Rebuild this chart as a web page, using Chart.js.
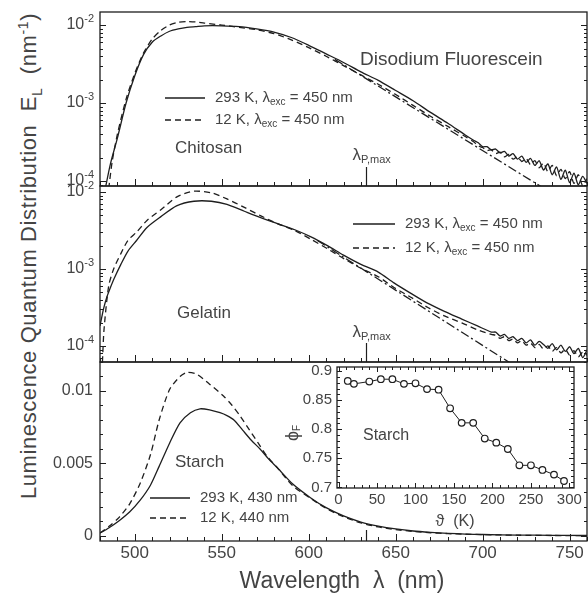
<!DOCTYPE html>
<html>
<head>
<meta charset="utf-8">
<title>Luminescence quantum distribution</title>
<script src="https://cdn.jsdelivr.net/npm/chart.js@4.4.1/dist/chart.umd.min.js"></script>
<style>
  html, body { margin: 0; padding: 0; background: #fff; }
  body { position: relative; width: 588px; height: 594px; overflow: hidden; }
  canvas { position: absolute; }
  #yTitle {
    position: absolute; left: 30px; top: 256px;
    transform: translate(-50%, -50%) rotate(-90deg);
    white-space: nowrap; font: 22px "Liberation Sans", Arial, sans-serif; color: #444;
    letter-spacing: 0.6px;
  }
  #yTitle sub, #yTitle sup { font-size: 14px; }
</style>
</head>
<body>
<div id="yTitle">Luminescence Quantum Distribution&nbsp; E<sub>L</sub> &nbsp;(nm<sup>-1</sup>)</div>
<canvas id="top" width="588" height="192" style="left:0;top:0"></canvas>
<canvas id="mid" width="588" height="192" style="left:0;top:176px"></canvas>
<canvas id="bot" width="588" height="242" style="left:0;top:352px"></canvas>
<canvas id="inset" width="318" height="180" style="left:270px;top:355px"></canvas>
<script>
// ---- data (log panels hold log10 of E_L) ----

// Chitosan, top panel
const chitWl293 = [483, 486, 490, 495, 500, 505, 510, 515, 520, 525, 530, 535, 540, 550, 560, 570, 580, 590, 600, 610, 620, 630, 640, 650, 660, 670, 680, 690, 695];
const chitExp293 = [-4.1, -3.78, -3.45, -3.0, -2.65, -2.38, -2.22, -2.14, -2.08, -2.05, -2.03, -2.02, -2.01, -2.01, -2.02, -2.05, -2.09, -2.16, -2.26, -2.37, -2.48, -2.60, -2.71, -2.84, -2.97, -3.12, -3.26, -3.41, -3.48];
const chitWl12 = [485, 487, 490, 495, 500, 505, 510, 515, 520, 525, 530, 535, 540, 550, 560, 570, 580, 590, 600, 610, 620, 630, 640, 650, 660, 670, 680, 690, 695];
const chitExp12 = [-4.1, -3.75, -3.40, -2.95, -2.62, -2.36, -2.18, -2.07, -2.0, -1.965, -1.955, -1.96, -1.975, -2.0, -2.03, -2.06, -2.11, -2.19, -2.29, -2.40, -2.52, -2.64, -2.76, -2.89, -3.03, -3.17, -3.30, -3.43, -3.50];
const chitTailWl = [697.5, 700, 702.5, 705, 707.5, 710, 712.5, 715, 717.5, 720, 722.5, 725, 727.5, 730, 732.5, 735, 737.5, 740, 742.5, 745, 747.5, 750, 752.5, 755, 757.5, 760];
const chitTailExp293 = [-3.51, -3.56, -3.56, -3.60, -3.59, -3.64, -3.62, -3.68, -3.65, -3.72, -3.68, -3.76, -3.71, -3.80, -3.74, -3.86, -3.78, -3.92, -3.82, -3.98, -3.86, -4.02, -3.90, -4.05, -3.94, -4.03];
const chitTailExp12 = [-3.55, -3.57, -3.61, -3.60, -3.65, -3.63, -3.69, -3.66, -3.72, -3.69, -3.75, -3.71, -3.79, -3.74, -3.83, -3.77, -3.88, -3.80, -3.93, -3.85, -3.97, -3.88, -4.03, -3.92, -4.06, -3.97];
const chitFitWl = [615, 740];
const chitFitExp = [-2.44, -4.16];

// Gelatin, middle panel
const gelWl293 = [480, 482, 484, 486, 488, 492, 496, 501, 507, 515, 524, 534, 544, 553, 563, 572, 582, 592, 601, 611, 620, 630, 640, 649, 659, 668, 678, 688, 697, 705];
const gelExp293 = [-3.74, -3.52, -3.36, -3.24, -3.13, -2.94, -2.77, -2.63, -2.46, -2.32, -2.18, -2.12, -2.12, -2.16, -2.25, -2.33, -2.41, -2.49, -2.58, -2.70, -2.82, -2.94, -3.04, -3.18, -3.32, -3.44, -3.55, -3.65, -3.74, -3.82];
const gelWl12 = [481.4, 482.3, 485, 488, 492, 496, 501.5, 507, 515, 524.5, 534, 544, 553, 563, 572.5, 582, 592, 601, 611, 620.5, 630, 640, 649, 659, 668.5, 678, 688, 697, 705];
const gelExp12 = [-4.21, -3.79, -3.22, -2.99, -2.80, -2.63, -2.51, -2.37, -2.23, -2.06, -1.99, -2.01, -2.09, -2.20, -2.31, -2.41, -2.50, -2.61, -2.74, -2.87, -2.99, -3.10, -3.24, -3.37, -3.50, -3.61, -3.70, -3.79, -3.85];
const gelTailWl = [707.5, 710, 712.5, 715, 717.5, 720, 722.5, 725, 727.5, 730, 732.5, 735, 737.5, 740, 742.5, 745, 747.5, 750, 752.5, 755, 757.5, 760];
const gelTailExp293 = [-3.82, -3.87, -3.85, -3.90, -3.88, -3.93, -3.90, -3.96, -3.92, -3.99, -3.94, -3.98, -4.03, -3.97, -4.05, -3.99, -4.07, -4.01, -4.10, -4.03, -4.15, -4.05];
const gelTailExp12 = [-3.86, -3.90, -3.88, -3.93, -3.91, -3.96, -3.93, -3.99, -3.96, -4.02, -3.98, -4.04, -4.00, -4.07, -4.02, -4.09, -4.04, -4.12, -4.06, -4.14, -4.08, -4.12];
const gelFitWl = [605, 720];
const gelFitExp = [-2.63, -4.28];

// Starch, bottom panel (linear)
const starchWl293 = [480, 485, 491, 497, 503, 509, 514, 520, 526, 532, 537.5, 543, 549, 553, 557, 562, 567, 572, 577, 582, 591, 601, 610, 620, 630, 640, 650, 660, 670, 680, 690, 700, 720, 740, 760];
const starch293 = [0.0002, 0.00055, 0.00105, 0.00165, 0.00245, 0.0035, 0.0048, 0.0064, 0.0078, 0.0085, 0.00877, 0.0087, 0.0085, 0.0083, 0.0080, 0.0073, 0.0066, 0.0060, 0.0053, 0.0047, 0.00356, 0.00264, 0.00195, 0.00138, 0.00096, 0.00068, 0.00048, 0.00034, 0.00025, 0.00018, 0.00013, 0.0001, 0.00006, 0.00004, 0.00003];
const starchWl12 = [480, 485.6, 491, 497, 503, 509, 514, 520, 526, 530, 535.6, 543, 551, 556, 561, 566, 571, 576, 582, 591, 601, 610, 620, 630, 640, 650, 660, 670, 680, 690, 700, 720, 740, 760];
const starch12 = [0.0002, 0.0007, 0.00128, 0.0022, 0.0036, 0.0056, 0.0080, 0.0101, 0.0110, 0.01128, 0.01116, 0.01047, 0.00965, 0.0090, 0.0082, 0.0073, 0.0064, 0.0055, 0.0047, 0.00344, 0.0026, 0.0019, 0.00132, 0.0009, 0.00062, 0.00044, 0.00031, 0.00022, 0.00016, 0.00012, 0.00009, 0.00005, 0.00003, 0.00002];

// Inset: fluorescence quantum yield of starch vs temperature
const thetaK = [12, 20, 40, 55, 70, 85, 100, 115, 130, 145, 160, 175, 190, 205, 220, 235, 250, 265, 280, 293];
const phiF = [0.883, 0.878, 0.882, 0.886, 0.886, 0.878, 0.879, 0.869, 0.868, 0.836, 0.811, 0.811, 0.784, 0.777, 0.766, 0.738, 0.738, 0.730, 0.722, 0.711];

// tick labels
const xMajor = [500, 550, 600, 650, 700, 750];
const linTicks = [0, 0.005, 0.01];
const linLabels = ['0', '0.005', '0.01'];
const insetXTicks = [0, 50, 100, 150, 200, 250, 300];
const insetYTicks = [0.7, 0.75, 0.8, 0.85, 0.9];
const insetYLabels = ['0.7', '0.75', '0.8', '0.85', '0.9'];
const lambdaPmax = 633;

const INK = '#1e1e1e';
const TXT = '#444';
const FONT = '"Liberation Sans", "DejaVu Sans", Arial, sans-serif';

// ---- helpers ----
function ptsLog(wl, exps) { return wl.map((w, i) => ({ x: w, y: Math.pow(10, exps[i]) })); }
function pts(wl, vals) { return wl.map((w, i) => ({ x: w, y: vals[i] })); }

function curve(data, dash) {
    return { data, borderColor: INK, borderWidth: 1.3, borderDash: dash || [], pointRadius: 0, tension: 0.25, fill: false };
}

function rich(ctx, x, y, parts, align) {
    let w = 0;
    parts.forEach(p => { ctx.font = p[1] + 'px ' + FONT; w += ctx.measureText(p[0]).width; });
    let cx = align === 'right' ? x - w : align === 'center' ? x - w / 2 : x;
    ctx.fillStyle = TXT; ctx.textAlign = 'left'; ctx.textBaseline = 'middle';
    parts.forEach(p => {
        ctx.font = p[1] + 'px ' + FONT;
        ctx.fillText(p[0], cx, y + (p[2] || 0));
        cx += ctx.measureText(p[0]).width;
    });
}

function frame(chart) {
    const { ctx, chartArea: a } = chart;
    ctx.save();
    ctx.strokeStyle = INK; ctx.lineWidth = 1.3; ctx.setLineDash([]);
    ctx.strokeRect(a.left, a.top, a.right - a.left, a.bottom - a.top);
    ctx.restore();
}

function yTicks(chart, values, len) {
    const { ctx, chartArea: a } = chart;
    const s = chart.scales.y;
    ctx.save(); ctx.strokeStyle = INK; ctx.lineWidth = 1; ctx.setLineDash([]); ctx.beginPath();
    values.forEach(v => {
        const y = Math.round(s.getPixelForValue(v)) + 0.5;
        if (y < a.top || y > a.bottom) return;
        ctx.moveTo(a.left, y); ctx.lineTo(a.left + len, y);
        ctx.moveTo(a.right, y); ctx.lineTo(a.right - len, y);
    });
    ctx.stroke(); ctx.restore();
}

function xTicks(chart, values, len, both) {
    const { ctx, chartArea: a } = chart;
    const s = chart.scales.x;
    ctx.save(); ctx.strokeStyle = INK; ctx.lineWidth = 1; ctx.setLineDash([]); ctx.beginPath();
    values.forEach(v => {
        const x = Math.round(s.getPixelForValue(v)) + 0.5;
        if (x < a.left - 0.5 || x > a.right + 0.5) return;
        ctx.moveTo(x, a.bottom); ctx.lineTo(x, a.bottom - len);
        if (both) { ctx.moveTo(x, a.top); ctx.lineTo(x, a.top + len); }
    });
    ctx.stroke(); ctx.restore();
}

function legendRow(ctx, x0, x1, y, dash, parts) {
    ctx.save(); ctx.strokeStyle = INK; ctx.lineWidth = 1.3; ctx.setLineDash(dash);
    ctx.beginPath(); ctx.moveTo(x0, y); ctx.lineTo(x1, y); ctx.stroke(); ctx.restore();
    rich(ctx, x1 + 10, y, parts);
}

function pMarker(chart, len, labelY) {
    const { ctx, chartArea: a } = chart;
    const x = Math.round(chart.scales.x.getPixelForValue(lambdaPmax)) + 0.5;
    ctx.save(); ctx.strokeStyle = INK; ctx.lineWidth = 1.2; ctx.setLineDash([]);
    ctx.beginPath(); ctx.moveTo(x, a.bottom); ctx.lineTo(x, a.bottom - len); ctx.stroke(); ctx.restore();
    if (labelY != null) rich(ctx, x - 14, labelY, [['λ', 17, 0], ['P,max', 11, 5]]);
}

const logMajor = [1e-4, 1e-3, 1e-2];
const logMinor = [];
[-5, -4, -3, -2].forEach(e => { for (let m = 2; m <= 9; m++) logMinor.push(m * Math.pow(10, e)); });
const xMinor = [];
for (let v = 480; v <= 760; v += 10) xMinor.push(v);

function logAxes(chart) {
    frame(chart);
    yTicks(chart, logMajor, 6);
    yTicks(chart, logMinor, 3);
    xTicks(chart, xMinor, 4);
    xTicks(chart, xMajor, 7);
    const s = chart.scales.y;
    [-4, -3, -2].forEach(e => {
        rich(chart.ctx, 94, s.getPixelForValue(Math.pow(10, e)), [['10', 16, 0], ['-' + (-e), 11, -6]], 'right');
    });
}

function panel(id, yCfg, datasets, pad, draw) {
    return new Chart(document.getElementById(id), {
        type: 'line',
        data: { datasets },
        options: {
            responsive: false, animation: false, events: [],
            layout: { padding: pad },
            plugins: { legend: { display: false }, tooltip: { enabled: false } },
            scales: {
                x: { type: 'linear', min: 480, max: 760, display: false },
                y: Object.assign({ display: false }, yCfg)
            }
        },
        plugins: [{ id: 'deco', afterDraw: draw }]
    });
}

// ---- top: chitosan ----
panel('top', { type: 'logarithmic', min: Math.pow(10, -4.064), max: Math.pow(10, -1.833) }, [
    curve(ptsLog(chitWl293.concat(chitTailWl), chitExp293.concat(chitTailExp293))),
    curve(ptsLog(chitWl12.concat(chitTailWl), chitExp12.concat(chitTailExp12)), [6, 4]),
    curve(ptsLog(chitFitWl, chitFitExp), [9, 3, 2, 3])
], { left: 100, right: 1, top: 12, bottom: 6 }, chart => {
    const ctx = chart.ctx;
    logAxes(chart);
    pMarker(chart, 19, 155);
    rich(ctx, 360, 60, [['Disodium Fluorescein', 19]]);
    rich(ctx, 175, 148, [['Chitosan', 17]]);
    legendRow(ctx, 165, 205, 98, [], [['293 K, λ', 15, 0], ['exc', 10, 4], [' = 450 nm', 15, 0]]);
    legendRow(ctx, 165, 205, 120, [6, 4], [['12 K, λ', 15, 0], ['exc', 10, 4], [' = 450 nm', 15, 0]]);
});

// ---- middle: gelatin ----
panel('mid', { type: 'logarithmic', min: Math.pow(10, -4.208), max: Math.pow(10, -1.922) }, [
    curve(ptsLog(gelWl293.concat(gelTailWl), gelExp293.concat(gelTailExp293))),
    curve(ptsLog(gelWl12.concat(gelTailWl), gelExp12.concat(gelTailExp12)), [6, 4]),
    curve(ptsLog(gelFitWl, gelFitExp), [9, 3, 2, 3])
], { left: 100, right: 1, top: 10, bottom: 6 }, chart => {
    const ctx = chart.ctx;
    logAxes(chart);
    pMarker(chart, 19, 156);
    rich(ctx, 177, 137, [['Gelatin', 17]]);
    legendRow(ctx, 353, 395, 48, [], [['293 K, λ', 15, 0], ['exc', 10, 4], [' = 450 nm', 15, 0]]);
    legendRow(ctx, 353, 395, 72, [6, 4], [['12 K, λ', 15, 0], ['exc', 10, 4], [' = 450 nm', 15, 0]]);
});

// ---- bottom: starch ----
const linMinor = [];
for (let k = 0; k <= 12; k++) linMinor.push(k * 0.001);

panel('bot', { type: 'linear', min: -0.00035, max: 0.0120 }, [
    curve(pts(starchWl293, starch293)),
    curve(pts(starchWl12, starch12), [6, 4])
], { left: 100, right: 1, top: 10, bottom: 53 }, chart => {
    const ctx = chart.ctx;
    const a = chart.chartArea;
    frame(chart);
    yTicks(chart, linMinor, 3);
    yTicks(chart, linTicks, 6);
    xTicks(chart, xMinor, 4);
    xTicks(chart, xMajor, 7);
    pMarker(chart, 11, null);
    linTicks.forEach((v, i) => rich(ctx, 93, chart.scales.y.getPixelForValue(v), [[linLabels[i], 16]], 'right'));
    xMajor.forEach(v => rich(ctx, chart.scales.x.getPixelForValue(v), a.bottom + 12, [[String(v), 17]], 'center'));
    rich(ctx, 175, 110, [['Starch', 17]]);
    legendRow(ctx, 150, 190, 146, [], [['293 K, 430 nm', 15]]);
    legendRow(ctx, 150, 190, 166, [6, 4], [['12 K, 440 nm', 15]]);
    rich(ctx, 342, 230, [['Wavelength  λ  (nm)', 23]], 'center');
});

// ---- inset: phi_F vs temperature ----
const insXMinor = [];
for (let v = 0; v <= 300; v += 10) insXMinor.push(v);
const insYMinor = [];
for (let k = 0; k <= 20; k++) insYMinor.push(0.7 + k * 0.01);

new Chart(document.getElementById('inset'), {
    type: 'line',
    data: {
        datasets: [{
            data: pts(thetaK, phiF),
            borderColor: INK, borderWidth: 1, tension: 0,
            pointRadius: 3.3, pointBackgroundColor: '#fff', pointBorderColor: INK, pointBorderWidth: 1.2
        }]
    },
    options: {
        responsive: false, animation: false, events: [],
        layout: { padding: { left: 67, right: 14, top: 12, bottom: 47 } },
        plugins: { legend: { display: false }, tooltip: { enabled: false } },
        scales: {
            x: { type: 'linear', min: -2, max: 306, display: false },
            y: { type: 'linear', min: 0.699, max: 0.907, display: false }
        }
    },
    plugins: [{
        id: 'insetDeco',
        afterDraw: chart => {
            const ctx = chart.ctx;
            const a = chart.chartArea;
            frame(chart);
            xTicks(chart, insXMinor, 3, true);
            xTicks(chart, insetXTicks, 5, true);
            yTicks(chart, insYMinor, 3);
            yTicks(chart, insetYTicks, 5);
            insetYTicks.forEach((v, i) => rich(ctx, a.left - 5, chart.scales.y.getPixelForValue(v), [[insetYLabels[i], 15]], 'right'));
            insetXTicks.forEach(v => rich(ctx, chart.scales.x.getPixelForValue(v), a.bottom + 12, [[String(v), 15]], 'center'));
            rich(ctx, 93, 81, [['Starch', 16]]);
            rich(ctx, 185, 167, [['ϑ  (K)', 16]], 'center');
            ctx.save();
            ctx.translate(23, 78);
            ctx.rotate(-Math.PI / 2);
            rich(ctx, 0, 0, [['ϕ', 18, 0], ['F', 10, 4]], 'center');
            ctx.restore();
        }
    }]
});
</script>
</body>
</html>
